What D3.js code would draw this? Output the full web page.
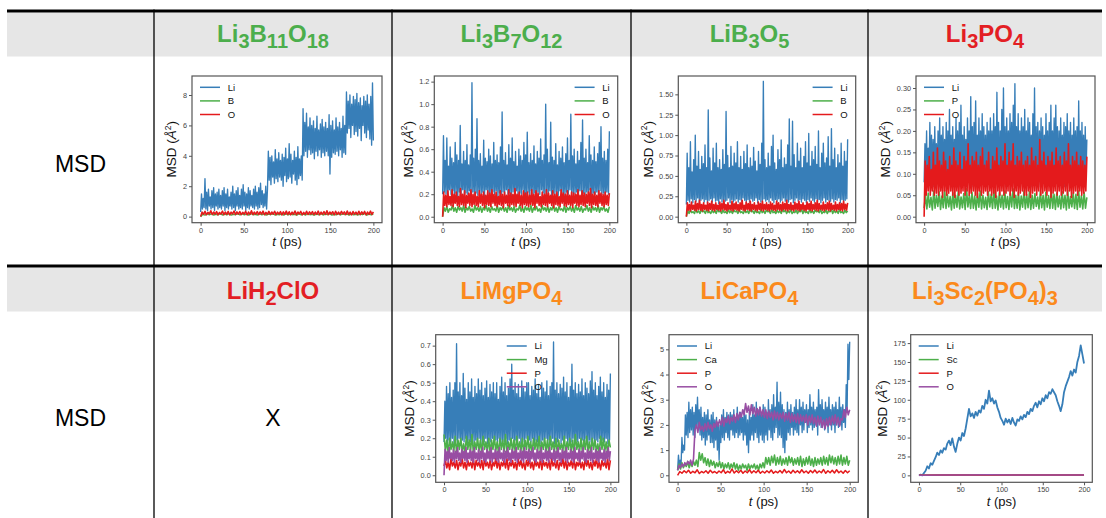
<!DOCTYPE html>
<html>
<head>
<meta charset="utf-8">
<script src="https://cdn.jsdelivr.net/npm/d3@7"></script>
<style>
  body { margin: 0; background: #fff; }
  svg { font-family: "Liberation Sans", Arial, sans-serif; }
</style>
</head>
<body>
<svg id="chart" width="1106" height="518"></svg>
<script>
// ---- table content ----
const rowLabel = 'MSD';
const formulasTop = ['Li3B11O18', 'Li3B7O12', 'LiB3O5', 'Li3PO4'];
const formulasBottom = ['LiH2ClO', 'LiMgPO4', 'LiCaPO4', 'Li3Sc2(PO4)3'];
const colorsTop = ['#4cae4c', '#4cae4c', '#4cae4c', '#e31e24'];
const colorsBottom = ['#e31e24', '#fb8a1c', '#fb8a1c', '#fb8a1c'];

// ---- tick labels ----
const xTicks = [0, 50, 100, 150, 200];
const ticksLi3B11O18 = [0, 2, 4, 6, 8];
const ticksLi3B7O12 = [0, 0.2, 0.4, 0.6, 0.8, 1.0, 1.2];
const ticksLiB3O5 = [0, 0.25, 0.5, 0.75, 1.0, 1.25, 1.5];
const ticksLi3PO4 = [0, 0.05, 0.1, 0.15, 0.2, 0.25, 0.3];
const ticksLiMgPO4 = [0, 0.1, 0.2, 0.3, 0.4, 0.5, 0.6, 0.7];
const ticksLiCaPO4 = [0, 1, 2, 3, 4, 5];
const ticksLi3Sc2PO43 = [0, 25, 50, 75, 100, 125, 150, 175];

// ---- MSD traces (A^2), evenly sampled over 0-200 ps ----
const li3b11o18Li = [.3,1.5,.5,1.2,.6,2.5,.5,1.6,.4,1.8,.7,1.3,.5,1.7,.6,1.9,.4,1.5,.7,1.6,
  .5,1.8,.6,1.4,.5,1.7,.7,1.9,.4,1.5,.6,1.8,.5,1.3,.7,1.6,.5,2.0,.6,1.5,
  .4,1.7,.7,1.9,.5,1.4,.6,1.8,.5,2.1,.7,1.6,.4,1.5,.6,1.9,.5,1.7,.7,1.4,
  .6,1.8,.5,2.0,.7,1.6,.5,1.9,.6,2.2,.8,1.7,.6,1.5,.7,2.0,.5,1.8,4.3,2.4,
  3.9,2.1,4.0,2.6,3.6,2.2,4.4,2.5,3.8,2.3,4.2,2.6,3.7,2.4,4.1,2.0,3.9,2.7,4.5,2.3,
  3.8,2.5,4.8,2.6,4.1,2.2,3.7,2.8,4.3,2.4,3.9,2.1,4.6,2.5,3.8,2.7,4.0,2.4,7.1,4.0,
  6.2,4.3,6.8,3.9,5.9,4.4,6.5,4.1,6.0,4.2,6.3,3.8,5.8,4.3,6.6,4.0,5.7,4.4,6.1,3.9,
  6.4,4.2,5.9,4.0,6.2,4.3,5.8,4.0,6.7,2.8,6.0,3.9,6.3,4.2,5.7,4.1,6.5,4.3,5.9,4.0,
  6.2,4.4,5.8,3.9,6.6,4.2,6.0,4.1,8.2,5.5,7.6,5.8,8.0,5.2,7.4,6.0,7.9,5.4,7.7,5.6,
  8.1,5.3,7.5,5.8,7.8,5.0,7.3,6.0,7.9,5.5,7.6,5.2,8.0,5.7,7.4,5.1,7.9,4.7,8.8,5.0];
const li3b11o18B = [0,.15,.1,.18,.12,.2,.1,.16,.13,.19,.11,.17,.12,.2,.1,.16,.13,.18,.11,.19,
  .12,.17,.1,.2,.13,.16,.11,.18,.12,.19,.1,.17,.13,.2,.11,.16,.12,.18,.1,.19,
  .11,.18,.13,.16,.1,.2,.12,.17,.11,.19,.13,.16,.1,.18,.12,.2,.11,.17,.13,.19,
  .1,.16,.12,.18,.11,.2,.13,.17,.1,.19,.12,.16,.11,.18,.13,.2,.1,.17,.12,.19];
const li3b11o18O = [0,.3,.15,.35,.12,.28,.18,.38,.14,.3,.16,.33,.12,.27,.17,.36,.13,.3,.15,.34,
  .12,.29,.18,.37,.14,.31,.16,.33,.13,.28,.17,.35,.12,.3,.15,.38,.14,.29,.16,.33,
  .13,.31,.17,.36,.12,.28,.15,.34,.14,.3,.16,.35,.13,.29,.17,.33,.12,.31,.15,.36,
  .14,.32,.12,.29,.16,.37,.13,.3,.18,.34,.12,.28,.15,.35,.14,.31,.17,.33,.13,.3,
  .15,.36,.12,.29,.16,.33,.14,.38,.13,.3,.17,.32,.12,.35,.15,.29,.14,.34,.16,.31,
  .13,.37,.15,.3,.12,.33,.17,.29,.14,.35,.13,.31,.16,.34,.12,.3,.15,.36,.14,.32];

const li3b7o12Li = [.2,.72,.22,.5,.2,.7,.18,.45,.24,.62,.2,.52,.23,.48,.19,.66,.21,.55,.18,.5,
  .22,.81,.2,.47,.24,.58,.19,.5,.21,.64,.2,.46,.23,.55,.18,1.19,.22,.52,.2,.6,
  .21,.87,.19,.5,.23,.56,.2,.45,.22,.68,.18,.52,.24,.49,.2,.6,.21,.54,.19,.47,
  .22,.66,.2,.5,.23,.55,.18,.48,.21,.62,.2,.93,.22,.5,.19,.57,.24,.46,.2,.64,
  .21,.52,.18,.7,.22,.49,.2,.58,.23,.45,.19,.6,.21,.54,.2,.5,.24,.66,.18,.55,
  .2,.75,.22,.48,.19,.56,.23,.5,.2,.63,.21,.47,.18,.58,.22,.52,.2,.69,.24,.5,
  .21,.55,.19,1.0,.22,.6,.2,.48,.23,.84,.18,.53,.21,.5,.2,.65,.22,.46,.19,.58,
  .23,.52,.2,.62,.21,.48,.18,.56,.22,.7,.2,.5,.24,.91,.19,.54,.21,.6,.2,.47,
  .22,.58,.18,.5,.23,.66,.2,.86,.21,.52,.19,.6,.22,.48,.2,.72,.24,.55,.18,.5,
  .21,.62,.2,.49,.22,.56,.19,.66,.23,.8,.2,.52,.21,.58,.18,.5,.22,.6,.2,.76];
const li3b7o12B = [0,.08,.05,.09,.04,.07,.06,.1,.05,.08,.04,.09,.06,.08,.05,.1,.04,.08,.06,.09,
  .05,.07,.04,.1,.06,.08,.05,.09,.04,.08,.06,.1,.05,.08,.04,.09,.06,.07,.05,.1,
  .04,.08,.06,.09,.05,.08,.04,.1,.06,.08,.05,.09,.04,.07,.06,.1,.05,.08,.04,.09,
  .06,.08,.05,.1,.04,.08,.06,.09,.05,.07,.04,.1,.06,.08,.05,.09,.04,.08,.06,.1,
  .05,.08,.04,.09,.06,.07,.05,.1,.04,.08,.06,.09,.05,.08,.04,.1,.06,.08,.05,.09,
  .04,.07,.06,.1,.05,.08,.04,.09,.06,.08,.05,.1,.04,.08,.06,.09,.05,.07,.04,.09];
const li3b7o12O = [0,.22,.1,.19,.09,.23,.11,.18,.1,.24,.09,.2,.12,.22,.1,.18,.09,.25,.11,.2,
  .1,.23,.08,.19,.12,.21,.1,.24,.09,.2,.11,.22,.1,.18,.09,.23,.12,.2,.1,.22,
  .08,.19,.11,.23,.1,.21,.09,.24,.12,.2,.1,.22,.09,.18,.11,.23,.1,.2,.08,.22,
  .12,.19,.1,.24,.09,.21,.11,.2,.1,.25,.09,.2,.12,.22,.1,.19,.08,.23,.11,.21,
  .1,.22,.09,.19,.11,.24,.1,.2,.08,.23,.12,.21,.1,.18,.09,.22,.11,.2,.1,.24,
  .09,.21,.12,.19,.1,.23,.08,.2,.11,.22,.1,.18,.09,.24,.12,.21,.1,.2,.09,.23,
  .11,.19,.1,.22,.08,.21,.12,.2,.1,.24,.09,.19,.11,.23,.1,.21,.09,.2,.12,.22,
  .1,.25,.08,.2,.11,.22,.1,.19,.09,.23,.12,.21,.1,.2,.09,.22,.11,.19,.1,.21];

const lib3o5Li = [.15,.78,.2,.6,.18,.92,.22,.55,.17,.7,.21,1.0,.19,.62,.23,.8,.16,.58,.2,.74,
  .22,.65,.18,.88,.21,.6,.17,1.31,.2,.72,.22,.56,.18,.84,.23,.66,.19,.9,.2,.6,
  .16,.7,.22,.58,.18,.82,.21,.64,.19,1.29,.2,.75,.23,.6,.17,.86,.21,.62,.18,.78,
  .2,.66,.22,.92,.18,.6,.21,.74,.19,.58,.23,.8,.2,.65,.17,.88,.21,.6,.18,.72,
  .22,.62,.19,.85,.2,.68,.23,.56,.17,.8,.21,.64,.18,.9,.2,1.66,.22,.7,.19,.6,
  .21,.78,.18,.62,.23,.86,.2,1.0,.17,.66,.21,.58,.19,.82,.22,.7,.18,.94,.2,.6,
  .23,.72,.19,.64,.2,.88,.18,1.2,.21,.62,.22,1.17,.17,.76,.2,.6,.23,.9,.19,.68,
  .21,.84,.18,.6,.22,.74,.2,.92,.17,.66,.21,1.02,.19,.62,.23,.8,.2,.7,.18,.86,
  .22,.64,.19,1.05,.21,.6,.17,.78,.2,.9,.23,.66,.18,.72,.21,.98,.2,.62,.19,1.08,
  .22,.7,.18,.84,.21,.6,.2,.76,.23,.66,.17,.9,.21,.62,.19,.8,.2,.68,.22,.95];
const lib3o5B = [0,.07,.04,.08,.05,.06,.04,.09,.05,.07,.04,.08,.06,.07,.04,.09,.05,.06,.04,.08,
  .05,.07,.04,.09,.06,.07,.04,.08,.05,.06,.04,.09,.05,.07,.04,.08,.06,.07,.04,.09,
  .05,.06,.04,.08,.05,.07,.04,.09,.06,.07,.04,.08,.05,.06,.04,.09,.05,.07,.04,.08,
  .06,.07,.04,.09,.05,.06,.04,.08,.05,.07,.04,.09,.06,.08,.04,.07,.05,.09,.04,.06,
  .05,.08,.04,.07,.06,.09,.04,.08,.05,.06,.04,.09,.05,.07,.04,.08,.06,.07,.05,.09,
  .04,.06,.05,.08,.04,.07,.06,.09,.04,.08,.05,.07,.04,.09,.05,.06,.04,.08,.05,.07];
const lib3o5O = [0,.17,.08,.15,.07,.18,.09,.14,.08,.19,.07,.16,.09,.2,.08,.15,.07,.17,.09,.14,
  .08,.18,.07,.16,.09,.19,.08,.15,.07,.17,.09,.14,.08,.18,.07,.16,.09,.2,.08,.15,
  .07,.17,.09,.14,.08,.19,.07,.16,.09,.18,.08,.15,.07,.17,.09,.2,.08,.14,.07,.18,
  .09,.16,.08,.19,.07,.15,.09,.17,.08,.14,.07,.18,.09,.16,.08,.19,.07,.15,.09,.17,
  .08,.15,.07,.18,.09,.16,.08,.14,.07,.19,.09,.17,.08,.15,.07,.18,.09,.16,.08,.2,
  .07,.15,.09,.17,.08,.14,.07,.18,.09,.16,.08,.19,.07,.15,.09,.17,.08,.14,.07,.18,
  .09,.16,.08,.19,.07,.15,.09,.17,.08,.2,.07,.16,.09,.14,.08,.18,.07,.15,.09,.17,
  .08,.19,.07,.16,.09,.14,.08,.18,.07,.15,.09,.17,.08,.16,.07,.19,.09,.15,.08,.17];

const li3po4Li = [.08,.17,.09,.2,.07,.16,.1,.22,.08,.19,.09,.18,.07,.21,.1,.17,.08,.2,.09,.23,
  .07,.19,.1,.21,.08,.18,.09,.22,.07,.2,.1,.25,.08,.19,.09,.21,.07,.18,.1,.23,
  .08,.2,.09,.22,.07,.26,.1,.19,.08,.21,.09,.18,.07,.23,.1,.2,.08,.28,.09,.21,
  .07,.22,.1,.27,.08,.19,.09,.23,.07,.2,.1,.24,.08,.21,.09,.19,.07,.22,.1,.2,
  .08,.23,.09,.2,.07,.24,.1,.21,.08,.29,.09,.22,.07,.2,.1,.25,.08,.3,.09,.21,
  .07,.23,.1,.2,.08,.24,.09,.22,.07,.26,.1,.31,.08,.21,.09,.24,.07,.2,.1,.23,
  .08,.21,.09,.25,.07,.2,.1,.23,.08,.22,.09,.19,.07,.24,.1,.3,.08,.21,.09,.22,
  .07,.2,.1,.23,.08,.21,.09,.19,.07,.24,.1,.2,.08,.22,.09,.26,.07,.2,.1,.23,
  .08,.26,.09,.21,.07,.2,.1,.23,.08,.19,.09,.22,.07,.21,.1,.24,.08,.2,.09,.22,
  .07,.19,.1,.23,.08,.2,.09,.21,.07,.27,.1,.2,.08,.22,.09,.19,.07,.21,.1,.18];
const li3po4P = [.02,.05,.018,.055,.022,.045,.016,.06,.02,.05,.024,.058,.017,.048,.021,.062,.019,.052,.023,.047,
  .016,.056,.02,.05,.022,.06,.018,.046,.021,.054,.017,.065,.023,.05,.019,.057,.02,.048,.016,.055,
  .022,.06,.018,.05,.021,.045,.017,.058,.023,.052,.019,.062,.02,.048,.016,.056,.022,.05,.018,.06,
  .021,.047,.017,.055,.023,.065,.019,.05,.02,.057,.016,.048,.022,.06,.018,.052,.021,.058,.017,.05,
  .02,.054,.024,.046,.018,.06,.021,.05,.016,.057,.022,.049,.019,.063,.02,.052,.017,.055,.023,.048,
  .018,.058,.021,.05,.016,.061,.02,.047,.023,.055,.019,.052,.017,.06,.022,.049,.018,.056,.02,.045];
const li3po4O = [0,.13,.05,.12,.06,.14,.05,.11,.06,.15,.05,.12,.055,.16,.05,.13,.06,.12,.045,.15,
  .06,.13,.05,.11,.055,.14,.06,.12,.05,.16,.045,.13,.06,.12,.05,.15,.055,.11,.06,.14,
  .05,.13,.06,.17,.05,.12,.055,.14,.06,.13,.05,.15,.045,.12,.06,.14,.05,.16,.055,.12,
  .06,.13,.05,.15,.06,.11,.05,.14,.055,.13,.045,.16,.06,.12,.05,.14,.06,.13,.05,.17,
  .055,.12,.06,.15,.05,.13,.06,.17,.045,.12,.06,.14,.05,.13,.055,.15,.06,.12,.05,.13,
  .05,.14,.06,.12,.045,.16,.055,.13,.06,.14,.05,.12,.06,.18,.05,.13,.055,.15,.06,.12,
  .05,.14,.06,.13,.045,.15,.055,.12,.06,.16,.05,.13,.06,.14,.05,.12,.055,.15,.06,.13,
  .05,.17,.06,.12,.045,.14,.055,.13,.06,.15,.05,.12,.06,.14,.05,.13,.055,.12,.06,.14];

const limgpo4Li = [.18,.4,.2,.48,.17,.44,.19,.5,.18,.42,.2,.46,.17,.5,.19,.71,.18,.45,.2,.5,
  .17,.43,.19,.55,.18,.47,.2,.41,.17,.5,.19,.45,.18,.52,.2,.42,.17,.48,.19,.44,
  .18,.52,.2,.46,.17,.5,.19,.43,.18,.47,.2,.51,.17,.42,.19,.49,.18,.45,.2,.5,
  .17,.44,.19,.5,.18,.41,.2,.48,.17,.53,.19,.45,.18,.5,.2,.43,.17,.47,.19,.52,
  .18,.6,.2,.46,.17,.5,.19,.44,.18,.49,.2,.42,.17,.51,.19,.47,.18,.45,.2,.5,
  .17,.5,.19,.43,.18,.48,.2,.46,.17,.52,.19,.44,.18,.49,.2,.42,.17,.5,.19,.47,
  .18,.45,.2,.51,.17,.43,.19,.48,.18,.5,.2,.72,.17,.46,.19,.5,.18,.44,.2,.49,
  .17,.47,.19,.53,.18,.45,.2,.5,.17,.42,.19,.48,.18,.6,.2,.46,.17,.5,.19,.44,
  .18,.49,.2,.45,.17,.52,.19,.43,.18,.5,.2,.47,.17,.44,.19,.51,.18,.56,.2,.46,
  .17,.5,.19,.43,.18,.48,.2,.53,.17,.45,.19,.5,.18,.42,.2,.49,.17,.46,.19,.55];
const limgpo4Mg = [.22,.13,.19,.12,.2,.14,.18,.13,.21,.12,.19,.14,.2,.13,.17,.12,.21,.14,.19,.13,
  .22,.12,.18,.14,.2,.13,.19,.12,.21,.14,.18,.13,.2,.12,.19,.14,.21,.13,.18,.12,
  .2,.14,.19,.13,.22,.12,.18,.14,.2,.13,.19,.12,.21,.14,.18,.13,.2,.12,.19,.14,
  .21,.13,.18,.12,.2,.14,.19,.13,.21,.12,.18,.14,.2,.13,.19,.12,.21,.14,.18,.13,
  .2,.12,.19,.14,.17,.13,.21,.12,.18,.14,.2,.13,.19,.12,.22,.14,.18,.13,.2,.12,
  .19,.14,.21,.13,.18,.12,.2,.14,.19,.13,.17,.12,.21,.14,.2,.13,.18,.12,.19,.15];
const limgpo4P = [.05,.08,.04,.07,.03,.09,.05,.07,.04,.08,.03,.07,.05,.09,.04,.07,.03,.08,.05,.07,
  .04,.09,.03,.08,.05,.07,.04,.08,.03,.09,.05,.07,.04,.08,.03,.07,.05,.09,.04,.08,
  .03,.07,.05,.08,.04,.09,.03,.07,.05,.08,.04,.07,.03,.09,.05,.08,.04,.07,.03,.08,
  .05,.09,.04,.07,.03,.08,.05,.07,.04,.09,.03,.08,.05,.07,.04,.08,.03,.09,.05,.07,
  .04,.08,.03,.07,.05,.09,.04,.08,.03,.07,.05,.08,.04,.09,.03,.07,.05,.08,.04,.07,
  .03,.09,.05,.08,.04,.07,.03,.08,.05,.09,.04,.07,.03,.08,.05,.07,.04,.09,.03,.08];
const limgpo4O = [0,.14,.08,.13,.07,.15,.09,.12,.08,.14,.07,.13,.09,.15,.08,.12,.07,.14,.09,.13,
  .08,.15,.07,.12,.09,.14,.08,.13,.07,.15,.09,.12,.08,.14,.07,.13,.09,.15,.08,.12,
  .07,.14,.09,.13,.08,.15,.07,.12,.09,.14,.08,.13,.07,.15,.09,.12,.08,.14,.07,.13,
  .09,.15,.08,.12,.07,.14,.09,.13,.08,.15,.07,.12,.09,.14,.08,.13,.07,.15,.09,.13,
  .08,.14,.07,.13,.09,.15,.08,.12,.07,.14,.09,.13,.08,.15,.07,.12,.09,.14,.08,.13,
  .07,.15,.09,.12,.08,.14,.07,.13,.09,.15,.08,.12,.07,.14,.09,.13,.08,.15,.07,.12,
  .09,.14,.08,.13,.07,.15,.09,.12,.08,.14,.07,.13,.09,.15,.08,.12,.07,.14,.09,.13,
  .08,.15,.07,.12,.09,.14,.08,.13,.07,.15,.09,.12,.08,.14,.07,.13,.09,.15,.08,.13];

const licapo4Li = [.2,.8,.3,.6,.4,1.5,.9,1.2,1.0,2.4,1.6,2.5,1.5,2.9,1.7,2.6,1.8,2.7,1.6,2.5,
  1.5,2.8,1.9,3.1,1.8,2.6,1.6,2.7,1.4,2.3,1.5,2.5,1.2,2.4,1.4,2.6,1.6,2.2,1.3,2.4,
  1.3,2.5,1.1,2.2,1.4,2.3,1.0,2.1,.6,2.0,1.3,2.4,1.5,2.6,1.4,2.3,1.7,2.5,1.5,2.4,
  1.4,2.5,1.8,2.4,1.6,2.6,1.5,2.3,1.7,2.7,1.5,2.4,1.6,2.5,1.7,2.3,1.4,2.6,1.6,2.4,
  1.2,2.2,.9,2.5,1.4,2.3,1.6,2.8,1.4,2.4,1.7,2.9,1.5,2.6,1.3,2.7,1.6,2.5,1.4,2.8,
  1.3,2.7,1.6,2.5,1.4,3.0,1.8,2.6,1.5,2.8,1.4,3.2,1.7,2.7,1.9,3.7,1.5,2.9,1.6,3.3,
  1.5,2.8,1.1,2.6,.9,2.5,1.4,2.9,1.7,2.6,1.6,2.8,1.9,2.5,1.6,2.7,1.8,3.0,1.7,2.6,
  1.6,3.0,2.0,2.7,1.7,2.9,1.8,2.6,2.1,2.8,1.7,2.6,1.9,3.2,2.0,2.7,1.8,2.9,1.9,2.6,
  2.0,2.7,1.6,3.4,2.2,2.8,1.9,3.0,2.1,2.6,1.8,2.9,2.0,2.7,1.7,3.1,2.0,2.6,1.8,2.8,
  2.0,2.7,1.7,2.9,2.2,2.6,1.9,3.1,2.0,2.7,1.8,2.8,2.1,2.6,1.9,3.6,2.5,5.2,3.8,5.3];
const licapo4Ca = [.2,.45,.25,.5,.3,.45,.35,.55,.3,.5,.35,.55,.4,.6,.35,.9,.6,.85,.5,.7,
  .4,.65,.35,.6,.4,.55,.3,.5,.35,.55,.3,.5,.25,.45,.3,.5,.25,.45,.3,.5,
  .25,.45,.2,.4,.25,.45,.3,.4,.2,.45,.25,.4,.3,.45,.25,.4,.2,.45,.3,.5,
  .3,.7,.45,.7,.4,.75,.5,.8,.4,.7,.45,.75,.4,.65,.45,.7,.4,.75,.5,.7,
  .4,.65,.45,.7,.4,.75,.35,.65,.4,.7,.45,.75,.4,.65,.35,.7,.4,.65,.45,.7,
  .4,.75,.45,.7,.4,.8,.5,.75,.45,.7,.4,.75,.45,.8,.4,.7,.45,.75,.4,.6];
const licapo4P = [0,.15,.08,.18,.1,.2,.08,.16,.1,.22,.07,.15,.1,.18,.08,.2,.1,.15,.08,.17,
  .1,.22,.08,.16,.1,.25,.09,.18,.1,.2,.08,.17,.1,.22,.09,.18,.1,.2,.08,.16,
  .09,.18,.1,.21,.08,.16,.1,.19,.09,.23,.1,.17,.08,.2,.1,.18,.09,.22,.1,.17,
  .08,.19,.1,.21,.09,.17,.1,.23,.08,.18,.1,.2,.09,.22,.1,.17,.08,.19,.1,.18];
const licapo4O = [.2,.4,.3,.45,.35,.5,.4,.55,.45,.6,.4,.65,1.8,2.0,1.7,2.1,1.8,1.95,1.75,2.05,
  1.8,2.1,1.85,2.0,1.75,2.05,1.9,2.15,1.95,2.2,2.0,2.3,1.95,2.25,2.1,2.35,2.05,2.3,2.15,2.4,
  2.1,2.45,2.2,2.5,2.3,2.6,2.4,2.85,2.5,2.75,2.4,2.8,2.45,2.7,2.35,2.65,2.4,2.7,2.35,2.6,
  2.3,2.6,2.25,2.55,2.3,2.5,2.2,2.55,2.25,2.5,2.2,2.45,2.25,2.5,2.15,2.45,2.2,2.5,2.1,2.45,
  2.15,2.4,2.1,2.45,2.05,2.4,2.15,2.35,2.1,2.4,2.0,2.35,2.1,2.4,2.05,2.3,1.95,2.35,2.0,2.3,
  1.9,2.2,1.85,2.25,1.95,2.3,2.0,2.35,2.05,2.4,2.0,2.3,1.95,2.25,2.2,2.6,2.3,2.7,2.4,2.6];

const li3sc2po43Li = [0,1,0,3,6,12,9,16,14,19,24,30,27,33,30,36,34,42,46,40,
  49,38,31,42,50,46,56,52,62,75,88,78,82,76,84,79,86,83,92,88,
  100,95,112,98,102,95,99,90,84,76,72,67,75,70,74,68,76,70,66,74,
  72,78,74,80,77,84,81,88,85,92,96,90,98,94,102,98,106,102,110,108,
  114,110,106,98,92,85,94,110,118,124,130,138,132,140,136,150,158,172,160,148];
const li3sc2po43Sc = [0,.5,.3,.6,.4,.5,.3,.6];
const li3sc2po43P = [0,.4,.3,.5,.4,.5,.3,.4];
const li3sc2po43O = [0,.6,.4,.7,.5,.6,.4,.6];

// ---- layout ----
const svg = d3.select('#chart');
const colX = [7, 154, 392, 631, 868, 1102];
const rowLine = [11, 266];
const seriesColors = ['#377eb8', '#4daf4a', '#e41a1c', '#984ea3'];
const frameRows = [[76, 222.7], [334.7, 482.3]];

// header bands
rowLine.forEach(t => {
  svg.append('rect')
    .attr('x', colX[0]).attr('y', t + 1.5)
    .attr('width', colX[5] - colX[0]).attr('height', 44)
    .attr('fill', '#e6e6e6');
});

// grid lines
colX.slice(1, 5).forEach(x => {
  svg.append('line')
    .attr('x1', x).attr('x2', x).attr('y1', 9.5).attr('y2', 518)
    .attr('stroke', '#000').attr('stroke-width', 1.3);
});
rowLine.forEach(y => {
  svg.append('line')
    .attr('x1', colX[0]).attr('x2', colX[5]).attr('y1', y).attr('y2', y)
    .attr('stroke', '#000').attr('stroke-width', 3);
});

function formula(text, str) {
  const parts = str.match(/\d+|\D+/g);
  let down = false;
  parts.forEach(p => {
    const t = text.append('tspan').text(p);
    if (/\d/.test(p)) { t.attr('font-size', 20).attr('dy', 6); down = true; }
    else if (down) { t.attr('dy', -6); down = false; }
  });
}

[[formulasTop, colorsTop, 42], [formulasBottom, colorsBottom, 299]].forEach(([names, cols, base]) => {
  names.forEach((n, i) => {
    const t = svg.append('text')
      .attr('x', (colX[i + 1] + colX[i + 2]) / 2).attr('y', base)
      .attr('text-anchor', 'middle')
      .attr('font-size', 24).attr('font-weight', 'bold')
      .attr('fill', cols[i]);
    formula(t, n);
  });
});

[172, 426].forEach(y => {
  svg.append('text')
    .attr('x', (colX[0] + colX[1]) / 2).attr('y', y)
    .attr('text-anchor', 'middle').attr('font-size', 23)
    .text(rowLabel);
});

svg.append('text')
  .attr('x', (colX[1] + colX[2]) / 2).attr('y', 426)
  .attr('text-anchor', 'middle').attr('font-size', 23)
  .text('X');

// ---- MSD panels ----
const panels = [
  { row: 0, x0: 192, x1: 382, yDomain: [-0.4, 9.25], ticks: ticksLi3B11O18, fmt: 'd', legend: 'left',
    series: [['Li', li3b11o18Li], ['B', li3b11o18B], ['O', li3b11o18O]] },
  { row: 0, x0: 434.3, x1: 617.7, yDomain: [-0.053, 1.25], ticks: ticksLi3B7O12, fmt: '.1f', legend: 'right',
    series: [['Li', li3b7o12Li], ['B', li3b7o12B], ['O', li3b7o12O]] },
  { row: 0, x0: 678.3, x1: 855.7, yDomain: [-0.074, 1.725], ticks: ticksLiB3O5, fmt: '.2f', legend: 'right',
    series: [['Li', lib3o5Li], ['B', lib3o5B], ['O', lib3o5O]] },
  { row: 0, x0: 916, x1: 1095, yDomain: [-0.014, 0.328], ticks: ticksLi3PO4, fmt: '.2f', legend: 'left',
    series: [['Li', li3po4Li], ['P', li3po4P], ['O', li3po4O]] },
  { row: 1, x0: 435.7, x1: 618.7, yDomain: [-0.038, 0.759], ticks: ticksLiMgPO4, fmt: '.1f', legend: 'center',
    series: [['Li', limgpo4Li], ['Mg', limgpo4Mg], ['P', limgpo4P], ['O', limgpo4O]] },
  { row: 1, x0: 669, x1: 858.3, yDomain: [-0.278, 5.58], ticks: ticksLiCaPO4, fmt: 'd', legend: 'left',
    series: [['Li', licapo4Li], ['Ca', licapo4Ca], ['P', licapo4P], ['O', licapo4O]] },
  { row: 1, x0: 910.7, x1: 1092.3, yDomain: [-9.2, 186.1], ticks: ticksLi3Sc2PO43, fmt: 'd', legend: 'left',
    series: [['Li', li3sc2po43Li], ['Sc', li3sc2po43Sc], ['P', li3sc2po43P], ['O', li3sc2po43O]] }
];

function drawPanel(p) {
  const [y0, y1] = frameRows[p.row];
  const g = svg.append('g');

  const x = d3.scaleLinear().domain([-10, 210]).range([p.x0, p.x1]);
  const y = d3.scaleLinear().domain(p.yDomain).range([y1, y0]);

  const line = d3.line()
    .x(d => x(d[0]))
    .y(d => y(d[1]));

  p.series.forEach(([name, vals], i) => {
    const n = vals.length;
    const pts = vals.map((v, j) => [j * 200 / (n - 1), v]);
    // denser traces get thinner strokes so spikes stay fine
    const sw = n >= 200 ? 1.35 : n > 100 ? 1.6 : n === 100 ? 1.8 : 1.5;
    g.append('path')
      .attr('d', line(pts))
      .attr('fill', 'none')
      .attr('stroke', seriesColors[i])
      .attr('stroke-width', sw)
      .attr('stroke-linejoin', 'round');
  });

  g.append('rect')
    .attr('x', p.x0).attr('y', y0)
    .attr('width', p.x1 - p.x0).attr('height', y1 - y0)
    .attr('fill', 'none').attr('stroke', '#555').attr('stroke-width', 1.2);

  const yAxis = g.append('g')
    .attr('transform', `translate(${p.x0},0)`)
    .call(d3.axisLeft(y).tickValues(p.ticks).tickFormat(d3.format(p.fmt)).tickSize(3).tickPadding(2));
  const xAxis = g.append('g')
    .attr('transform', `translate(0,${y1})`)
    .call(d3.axisBottom(x).tickValues(xTicks).tickFormat(d3.format('d')).tickSize(3).tickPadding(2));

  [yAxis, xAxis].forEach(a => {
    a.select('.domain').remove();
    a.selectAll('.tick line').attr('stroke', '#555');
    a.selectAll('.tick text').attr('fill', '#444').style('font-size', '7.3px')
      .style('font-family', '"Liberation Sans", Arial, sans-serif');
  });

  const bb = yAxis.node().getBBox();
  const yl = g.append('text')
    .attr('transform', `translate(${p.x0 + bb.x - 6.5},${(y0 + y1) / 2}) rotate(-90)`)
    .attr('text-anchor', 'middle')
    .attr('font-size', 13.5).attr('fill', '#111');
  yl.append('tspan').text('MSD (');
  yl.append('tspan').attr('font-style', 'italic').text('Å');
  yl.append('tspan').attr('font-size', 8.5).attr('dy', -5.5).text('2');
  yl.append('tspan').attr('dy', 5.5).text(')');

  const xl = g.append('text')
    .attr('x', (p.x0 + p.x1) / 2).attr('y', y1 + 23.3)
    .attr('text-anchor', 'middle')
    .attr('font-size', 13).attr('fill', '#111');
  xl.append('tspan').attr('font-style', 'italic').text('t');
  xl.append('tspan').text(' (ps)');

  // legend
  const lg = g.append('g');
  const texts = p.series.map(([name], i) => lg.append('text')
    .attr('y', y0 + 11.3 + i * 13.6).attr('dy', '0.35em')
    .attr('font-size', 9.5).attr('fill', '#111').text(name));
  const tw = d3.max(texts, t => t.node().getComputedTextLength());
  const w = 27.7 + tw;
  const lx = p.legend === 'left' ? p.x0 + 8
    : p.legend === 'right' ? p.x1 - 8 - w
    : (p.x0 + p.x1) / 2 - w / 2;
  texts.forEach(t => t.attr('x', lx + 27.7));
  p.series.forEach((s, i) => {
    lg.append('line')
      .attr('x1', lx).attr('x2', lx + 20)
      .attr('y1', y0 + 11.3 + i * 13.6).attr('y2', y0 + 11.3 + i * 13.6)
      .attr('stroke', seriesColors[i]).attr('stroke-width', 1.5);
  });
}

panels.forEach(drawPanel);
</script>
</body>
</html>
